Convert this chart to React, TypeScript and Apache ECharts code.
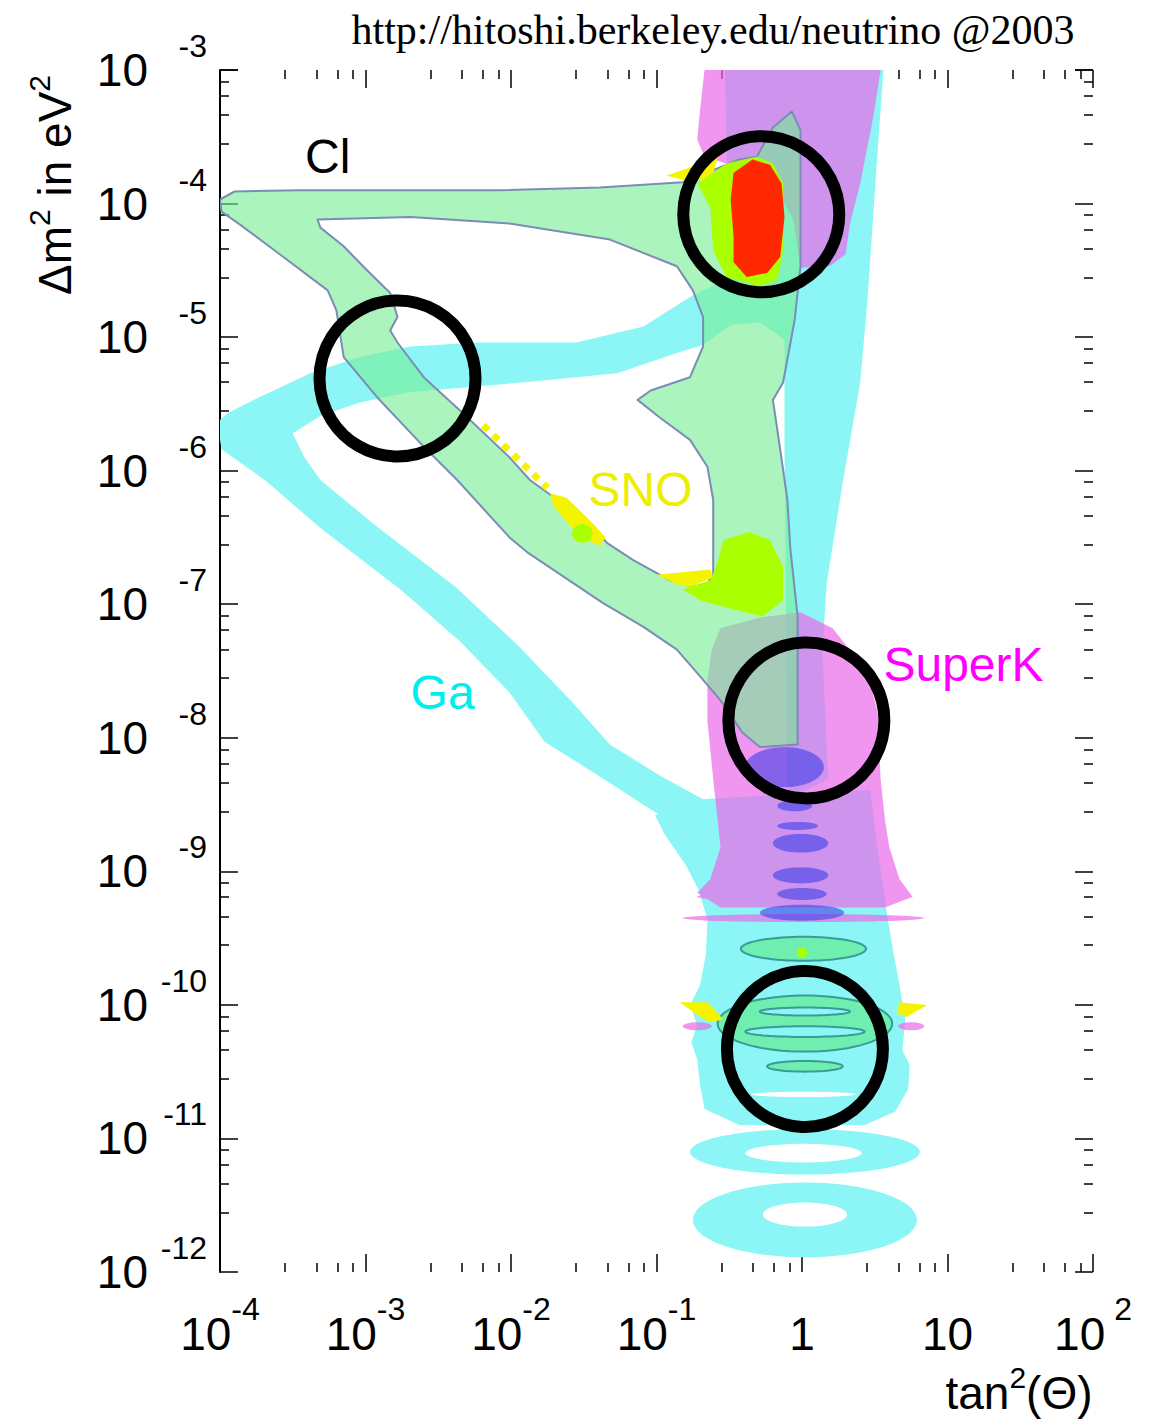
import React, { useEffect, useRef } from 'react';
import * as echarts from 'echarts';

type Pt = [number, number];
type Ell = [number, number, number, number];

// ---------- axis tick labels ----------
const X_LABEL_BASE = ['10', '10', '10', '10', '1', '10', '10'];
const X_LABEL_EXP = ['-4', '-3', '-2', '-1', '', '', ' 2'];
const Y_LABEL_EXP = ['-12', '-11', '-10', '-9', '-8', '-7', '-6', '-5', '-4', '-3'];

// ---------- regions: [log10 tan^2(theta), log10 dm^2] ----------
const CL_OUTER: Pt[] = [[-4.00,-3.97],[-3.90,-3.91],[-3.45,-3.90],[-2.76,-3.90],[-2.08,-3.90],[-1.39,-3.88],[-0.82,-3.84],[-0.70,-3.79],[-0.43,-3.67],[-0.31,-3.65],[-0.20,-3.43],[-0.07,-3.31],[-0.01,-3.45],[-0.01,-3.85],[-0.01,-4.47],[-0.05,-4.87],[-0.13,-5.34],[-0.20,-5.47],[-0.15,-5.84],[-0.10,-6.22],[-0.08,-6.59],[-0.03,-7.09],[-0.03,-7.72],[-0.03,-8.05],[-0.29,-8.07],[-0.41,-7.96],[-0.56,-7.72],[-0.70,-7.54],[-0.86,-7.34],[-1.09,-7.17],[-1.37,-6.99],[-1.78,-6.69],[-1.89,-6.61],[-2.01,-6.50],[-2.37,-6.07],[-2.60,-5.82],[-2.92,-5.45],[-3.15,-5.15],[-3.20,-4.80],[-3.26,-4.65],[-3.59,-4.38],[-3.86,-4.16],[-3.99,-4.06]];
const CL_HOLE: Pt[] = [[-3.33,-4.12],[-2.69,-4.10],[-2.01,-4.15],[-1.32,-4.27],[-0.86,-4.47],[-0.75,-4.65],[-0.68,-4.85],[-0.68,-5.07],[-0.77,-5.30],[-1.04,-5.40],[-1.13,-5.47],[-0.98,-5.60],[-0.77,-5.77],[-0.65,-5.97],[-0.61,-6.22],[-0.61,-6.59],[-0.61,-6.79],[-0.65,-6.84],[-0.75,-6.87],[-0.91,-6.82],[-1.16,-6.67],[-1.34,-6.54],[-1.44,-6.42],[-1.68,-6.22],[-1.87,-6.07],[-2.01,-5.90],[-2.33,-5.57],[-2.60,-5.30],[-2.78,-5.04],[-2.83,-4.95],[-2.78,-4.85],[-2.83,-4.67],[-2.99,-4.50],[-3.15,-4.32],[-3.31,-4.18]];
const CL_RIPPLES: Ell[] = [[0.01,-9.58,0.43,0.09],[0.02,-10.14,0.60,0.21],[0.02,-10.46,0.26,0.04]];
const CL_SLITS: Ell[] = [[0.02,-10.05,0.31,0.03],[0.02,-10.20,0.41,0.04]];

const GA_A: Pt[] = [[-0.53,-3.00],[0.56,-3.00],[0.52,-3.60],[0.45,-4.72],[0.40,-5.34],[0.28,-6.09],[0.17,-6.84],[0.14,-7.34],[0.18,-8.31],[-0.10,-8.46],[-0.11,-7.12],[-0.12,-5.84],[-0.12,-5.02],[-0.29,-4.89],[-0.49,-4.91],[-0.68,-5.06],[-0.86,-5.12],[-1.27,-5.27],[-1.73,-5.32],[-2.23,-5.37],[-2.69,-5.41],[-3.04,-5.49],[-3.31,-5.59],[-3.50,-5.72],[-3.42,-5.90],[-3.31,-6.07],[-2.92,-6.42],[-2.38,-6.87],[-1.96,-7.30],[-1.59,-7.72],[-1.32,-8.05],[-0.98,-8.28],[-0.63,-8.49],[-0.43,-8.61],[-0.49,-8.84],[-0.70,-8.76],[-1.02,-8.55],[-1.39,-8.29],[-1.77,-8.03],[-2.01,-7.66],[-2.35,-7.28],[-2.76,-6.89],[-3.31,-6.43],[-3.68,-6.08],[-3.86,-5.94],[-3.99,-5.84],[-4.00,-5.77],[-4.00,-5.62],[-3.95,-5.57],[-3.73,-5.45],[-3.38,-5.27],[-3.04,-5.15],[-2.69,-5.07],[-2.23,-5.04],[-1.55,-5.04],[-1.09,-4.92],[-0.77,-4.70],[-0.60,-4.61],[-0.44,-4.46],[-0.51,-3.97]];
const GA_COL: Pt[] = [[-0.70,-8.46],[0.47,-8.39],[0.51,-8.76],[0.55,-9.06],[0.59,-9.36],[0.63,-9.62],[0.67,-9.85],[0.71,-10.11],[0.69,-10.34],[0.74,-10.45],[0.73,-10.63],[0.64,-10.80],[0.43,-10.90],[-0.43,-10.90],[-0.67,-10.78],[-0.70,-10.60],[-0.72,-10.41],[-0.76,-10.28],[-0.72,-10.15],[-0.77,-10.00],[-0.70,-9.85],[-0.66,-9.62],[-0.65,-9.36],[-0.71,-9.14],[-0.80,-8.95],[-0.94,-8.73],[-1.01,-8.58]];
// ring: outer ellipse [cx, cy, rx, ry] then inner hole [cx, cy, rx, ry]
const GA_RINGS: number[][] = [[0.02,-11.10,0.79,0.17, 0.01,-11.11,0.40,0.07],[0.02,-11.61,0.77,0.28, 0.02,-11.57,0.29,0.09]];
const GA_SLITS: Ell[] = [[0.01,-10.67,0.36,0.02]];

const SK_TOP: Pt[] = [[-0.67,-3.00],[0.54,-3.00],[0.49,-3.35],[0.40,-3.85],[0.33,-4.15],[0.30,-4.38],[0.19,-4.47],[-0.01,-4.48],[-0.06,-4.12],[-0.19,-3.86],[-0.43,-3.73],[-0.67,-3.65],[-0.72,-3.52],[-0.70,-3.30]];
const SK_MID: Pt[] = [[-0.56,-7.18],[-0.29,-7.10],[-0.01,-7.06],[0.21,-7.18],[0.45,-7.51],[0.52,-7.81],[0.54,-8.31],[0.57,-8.61],[0.60,-8.82],[0.67,-9.06],[0.76,-9.19],[0.57,-9.27],[-0.56,-9.27],[-0.72,-9.16],[-0.63,-9.06],[-0.56,-8.82],[-0.61,-8.31],[-0.65,-7.87],[-0.65,-7.57],[-0.62,-7.34]];
const SK_STRIPES: Ell[] = [[0.01,-9.35,0.83,0.03],[0.02,-9.19,0.74,0.04],[0.02,-9.05,0.65,0.04],[-0.72,-10.16,0.10,0.03],[0.75,-10.16,0.09,0.03]];
const SK_CORE: Ell[] = [[-0.12,-8.22,0.27,0.15],[-0.05,-8.51,0.12,0.04],[-0.03,-8.66,0.14,0.03],[-0.01,-8.79,0.19,0.07],[-0.01,-9.03,0.19,0.06],[0.00,-9.17,0.17,0.045],[0.00,-9.31,0.29,0.06]];

const Y_TOP: Pt[] = [[-0.93,-3.79],[-0.58,-3.66],[-0.62,-3.81],[-0.79,-3.83]];
const Y_SNO: Pt[] = [[-1.73,-6.17],[-1.62,-6.20],[-1.46,-6.37],[-1.35,-6.50],[-1.39,-6.56],[-1.44,-6.54],[-1.59,-6.42],[-1.71,-6.26]];
const Y_SNO_DOTS: Pt[] = [[-2.19,-5.66],[-1.75,-6.13]];
const Y_LOW: Pt[] = [[-1.00,-6.78],[-0.63,-6.74],[-0.61,-6.80],[-0.77,-6.87],[-0.86,-6.85]];
const Y_BOT_L: Pt[] = [[-0.84,-9.98],[-0.65,-9.98],[-0.54,-10.11],[-0.63,-10.13],[-0.70,-10.09]];
const Y_BOT_R: Pt[] = [[0.67,-9.98],[0.86,-10.00],[0.72,-10.09],[0.65,-10.06]];

const L_TOP: Pt[] = [[-0.72,-3.85],[-0.63,-4.03],[-0.61,-4.35],[-0.52,-4.55],[-0.29,-4.62],[-0.17,-4.57],[-0.13,-4.35],[-0.13,-3.85],[-0.20,-3.70],[-0.31,-3.65],[-0.52,-3.70],[-0.65,-3.80]];
const L_MID: Pt[] = [[-0.54,-6.52],[-0.36,-6.46],[-0.22,-6.52],[-0.13,-6.72],[-0.13,-6.97],[-0.27,-7.09],[-0.47,-7.04],[-0.70,-6.97],[-0.82,-6.89],[-0.63,-6.82],[-0.58,-6.69]];
const L_DOTS: Ell[] = [[-1.51,-6.47,0.07,0.07],[0.00,-9.61,0.035,0.04]];

const RED: Pt[] = [[-0.34,-3.67],[-0.47,-3.77],[-0.49,-3.97],[-0.47,-4.25],[-0.47,-4.44],[-0.38,-4.55],[-0.24,-4.52],[-0.15,-4.40],[-0.12,-4.10],[-0.14,-3.85],[-0.22,-3.71]];

const CIRCLES: Pt[] = [[-0.28,-4.08],[-2.78,-5.31],[0.03,-7.87],[0.02,-10.33]];

const LABEL_TEXT = ['Cl', 'SNO', 'SuperK', 'Ga'];
const LABEL_POS: Pt[] = [[-3.26,-3.65],[-1.11,-6.14],[1.11,-7.45],[-2.47,-7.66]];
const LABEL_COLOR = ['#000000', '#eeee00', '#ff00ff', '#00eeee'];

// ---------- styling ----------
const SANS = '"Liberation Sans", Arial, sans-serif';
const CIRCLE_R = 78;

const toVal = (lx: number, ly: number) => [Math.pow(10, lx), Math.pow(10, ly)];

function polyPts(api: any, pts: Pt[], reverse = false): number[][] {
  const arr = reverse ? pts.slice().reverse() : pts;
  return arr.map((p) => api.coord(toVal(p[0], p[1])));
}
function ellPts(api: any, e: number[], reverse = false): number[][] {
  const c = api.coord(toVal(e[0], e[1]));
  const ex = api.coord(toVal(e[0] + e[2], e[1]));
  const ey = api.coord(toVal(e[0], e[1] + e[3]));
  const a = Math.abs(ex[0] - c[0]);
  const b = Math.abs(c[1] - ey[1]);
  const out: number[][] = [];
  const n = 72;
  for (let i = 0; i < n; i++) {
    const t = (i / n) * Math.PI * 2;
    out.push([c[0] + a * Math.cos(t), c[1] + (reverse ? -1 : 1) * b * Math.sin(t)]);
  }
  return out;
}
function sub(points: number[][]): string {
  return points.map((p, i) => (i ? 'L' : 'M') + p[0].toFixed(1) + ' ' + p[1].toFixed(1)).join(' ') + ' Z';
}

function pathLayer(name: string, build: (api: any) => string, style: any) {
  return {
    type: 'custom',
    name,
    silent: true,
    clip: true,
    data: [[1, 1e-6]],
    renderItem: (_p: any, api: any) => ({
      type: 'path',
      shape: { pathData: build(api) },
      style,
    }),
  };
}

export default function App() {
  const ref = useRef<HTMLDivElement>(null);

  useEffect(() => {
    if (!ref.current) return;
    const chart = echarts.init(ref.current, null, { renderer: 'svg' });

    const richLabel = {
      b: { fontSize: 46, fontFamily: SANS, color: '#000', lineHeight: 46, padding: [18, 0, 18, 0], verticalAlign: 'middle' },
      e: { fontSize: 32, fontFamily: SANS, color: '#000', lineHeight: 32, padding: [0, 0, 50, 0], verticalAlign: 'middle' },
      ey: { fontSize: 32, fontFamily: SANS, color: '#000', lineHeight: 32, padding: [0, 0, 48, 0], verticalAlign: 'middle', width: 59, align: 'right' },
    };
    const tickStyle = { color: '#000', width: 1.5 };
    const nameRich = {
      a: { fontSize: 46, fontFamily: SANS, color: '#000', lineHeight: 46, verticalAlign: 'middle' },
      s: { fontSize: 30, fontFamily: SANS, color: '#000', lineHeight: 30, padding: [0, 0, 32, 0], verticalAlign: 'middle' },
    };

    const gaBuild = (api: any) => [
      sub(polyPts(api, GA_A)),
      sub(polyPts(api, GA_COL)),
      ...GA_RINGS.map((r) => sub(ellPts(api, r.slice(0, 4))) + ' ' + sub(ellPts(api, r.slice(4, 8), true))),
    ].join(' ');

    const option: any = {
      animation: false,
      backgroundColor: '#ffffff',
      grid: { left: 220, right: 58, top: 70, bottom: 153 },
      xAxis: [
        {
          type: 'log', logBase: 10, min: 1e-4, max: 1e2, position: 'bottom',
          axisLine: { show: false },
          axisTick: { show: true, inside: true, length: 18, lineStyle: tickStyle },
          minorTick: { show: true, splitNumber: 5, length: 9, lineStyle: tickStyle },
          splitLine: { show: false },
          axisLabel: {
            show: true, margin: 39, showMinLabel: true, showMaxLabel: true,
            formatter: (v: number) => {
              const i = Math.round(Math.log10(v)) + 4;
              const b = X_LABEL_BASE[i] ?? '';
              const e = X_LABEL_EXP[i] ?? '';
              return e ? `{b|${b}}{e|${e}}` : `{b|${b}}`;
            },
            rich: richLabel,
          },
        },
        {
          type: 'log', logBase: 10, min: 1e-4, max: 1e2, position: 'top',
          axisLine: { show: false },
          axisTick: { show: true, inside: true, length: 18, lineStyle: tickStyle },
          minorTick: { show: true, splitNumber: 5, length: 9, lineStyle: tickStyle },
          splitLine: { show: false },
          axisLabel: { show: false },
        },
      ],
      yAxis: [
        {
          type: 'log', logBase: 10, min: 1e-12, max: 1e-3, position: 'left',
          axisLine: { show: true, lineStyle: { color: '#000', width: 2 } },
          axisTick: { show: true, inside: true, length: 18, lineStyle: tickStyle },
          minorTick: { show: true, splitNumber: 5, length: 9, lineStyle: tickStyle },
          splitLine: { show: false },
          axisLabel: {
            show: true, margin: 13, showMinLabel: true, showMaxLabel: true,
            formatter: (v: number) => {
              const i = Math.round(Math.log10(v)) + 12;
              return `{b|10}{ey|${Y_LABEL_EXP[i] ?? ''}}`;
            },
            rich: richLabel,
          },
        },
        {
          type: 'log', logBase: 10, min: 1e-12, max: 1e-3, position: 'right',
          axisLine: { show: false },
          axisTick: { show: true, inside: true, length: 18, lineStyle: tickStyle },
          minorTick: { show: true, splitNumber: 5, length: 9, lineStyle: tickStyle },
          splitLine: { show: false },
          axisLabel: { show: false },
        },
      ],
      graphic: [
        {
          type: 'text', x: 713, y: 30, silent: true,
          style: {
            text: 'http://hitoshi.berkeley.edu/neutrino @2003',
            font: '42px "Liberation Serif", "Times New Roman", serif',
            fill: '#000', align: 'center', verticalAlign: 'middle', textAlign: 'center', textVerticalAlign: 'middle',
          },
        },
        {
          type: 'text', x: 55, y: 185, rotation: Math.PI / 2, silent: true,
          style: {
            text: '{a|Δm}{s|2}{a| in eV}{s|2}', rich: nameRich,
            fill: '#000', align: 'center', verticalAlign: 'middle', textAlign: 'center', textVerticalAlign: 'middle',
          },
        },
        {
          type: 'text', x: 1019, y: 1393, silent: true,
          style: {
            text: '{a|tan}{s|2}{a|(Θ)}', rich: nameRich,
            fill: '#000', align: 'center', verticalAlign: 'middle', textAlign: 'center', textVerticalAlign: 'middle',
          },
        },
      ],
      series: [
        pathLayer('Ga', gaBuild, { fill: '#8cf6f6' }),
        pathLayer('Ga gaps', (api) => GA_SLITS.map((e) => sub(ellPts(api, e))).join(' '), { fill: '#ffffff' }),
        pathLayer('SuperK', (api) => [
          sub(polyPts(api, SK_TOP)),
          sub(polyPts(api, SK_MID)),
          ...SK_STRIPES.map((e) => sub(ellPts(api, e))),
        ].join(' '), { fill: 'rgba(233,105,233,0.7)' }),
        pathLayer('Cl', (api) => sub(polyPts(api, CL_OUTER)) + ' ' + sub(polyPts(api, CL_HOLE, true)),
          { fill: 'rgba(120,238,150,0.62)', stroke: '#7b8db5', lineWidth: 2, lineJoin: 'round' }),
        pathLayer('SuperK core', (api) => SK_CORE.map((e) => sub(ellPts(api, e))).join(' '), { fill: 'rgba(64,64,232,0.6)' }),
        pathLayer('Cl ripples', (api) => CL_RIPPLES.map((e) => sub(ellPts(api, e))).join(' '),
          { fill: 'rgba(90,235,130,0.6)', stroke: '#3a9a95', lineWidth: 2 }),
        pathLayer('Cl slits', (api) => CL_SLITS.map((e) => sub(ellPts(api, e))).join(' '),
          { fill: '#8cf6f6', stroke: '#3a9a95', lineWidth: 2 }),
        pathLayer('SNO', (api) => [Y_TOP, Y_SNO, Y_LOW, Y_BOT_L, Y_BOT_R].map((p) => sub(polyPts(api, p))).join(' '),
          { fill: '#f4f400' }),
        {
          type: 'custom', name: 'SNO dots', silent: true, clip: true, data: [[1, 1e-6]],
          renderItem: (_p: any, api: any) => ({
            type: 'polyline',
            shape: { points: polyPts(api, Y_SNO_DOTS) },
            style: { stroke: '#f4f400', lineWidth: 7, lineDash: [7, 7], fill: 'none' },
          }),
        },
        pathLayer('Lime', (api) => [
          sub(polyPts(api, L_TOP)),
          sub(polyPts(api, L_MID)),
          ...L_DOTS.map((e) => sub(ellPts(api, e))),
        ].join(' '), { fill: '#aaff00' }),
        pathLayer('Best fit', (api) => sub(polyPts(api, RED)), { fill: '#ff2800' }),
        {
          type: 'custom', name: 'circles', silent: true, clip: false, data: [[1, 1e-6]],
          renderItem: (_p: any, api: any) => ({
            type: 'group',
            children: CIRCLES.map((c) => {
              const p = api.coord(toVal(c[0], c[1]));
              return {
                type: 'circle',
                shape: { cx: p[0], cy: p[1], r: CIRCLE_R },
                style: { fill: 'none', stroke: '#000', lineWidth: 12 },
              };
            }),
          }),
        },
        {
          type: 'custom', name: 'labels', silent: true, clip: false, data: [[1, 1e-6]],
          renderItem: (_p: any, api: any) => ({
            type: 'group',
            children: LABEL_TEXT.map((t, i) => {
              const p = api.coord(toVal(LABEL_POS[i][0], LABEL_POS[i][1]));
              return {
                type: 'text',
                x: p[0], y: p[1],
                style: {
                  text: t, fill: LABEL_COLOR[i], font: `48px ${SANS}`,
                  align: 'center', verticalAlign: 'middle', textAlign: 'center', textVerticalAlign: 'middle',
                },
              };
            }),
          }),
        },
      ],
    };

    chart.setOption(option);
    return () => chart.dispose();
  }, []);

  return (
    <div
      ref={ref}
      style={{ position: 'fixed', left: 0, top: 0, width: 1151, height: 1425, background: '#fff' }}
    />
  );
}
